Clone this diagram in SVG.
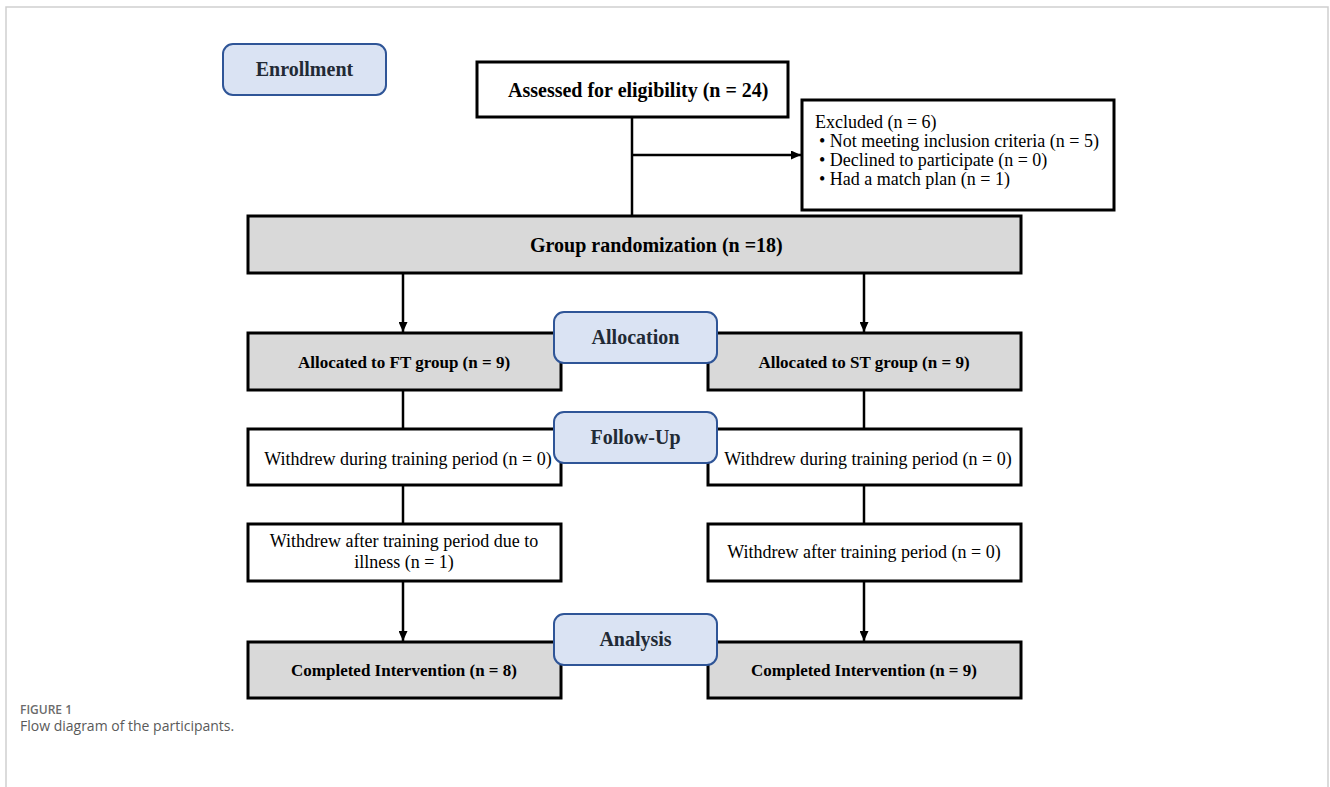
<svg xmlns="http://www.w3.org/2000/svg" width="1330" height="787" viewBox="0 0 1330 787">
<style>
.frame{fill:none;stroke:#cfcfcf;stroke-width:1.5}
.box{fill:#ffffff;stroke:#000;stroke-width:3}
.gbox{fill:#d9d9d9;stroke:#000;stroke-width:3}
.lab{fill:#dae3f3;stroke:#2f5597;stroke-width:2}
.conn{stroke:#000;stroke-width:2.5;fill:none}
.tb{font-family:"Liberation Serif","Times New Roman",serif;font-weight:bold;fill:#000}
.tr{font-family:"Liberation Serif","Times New Roman",serif;font-size:18px;fill:#000}
.tl{font-family:"Liberation Serif","Times New Roman",serif;font-weight:bold;font-size:20px;fill:#222a35;text-anchor:middle}
.cap1{font-family:"Open Sans","Noto Sans",sans-serif;font-weight:600;font-size:12px;fill:#6b6b6b}
.cap2{font-family:"Open Sans","Noto Sans",sans-serif;font-size:14px;fill:#5a5a5a}
</style>
<defs>
<marker id="arr" markerUnits="userSpaceOnUse" markerWidth="10" markerHeight="9" refX="10" refY="4.5" orient="auto">
<path d="M0,0 L10,4.5 L0,9 z" fill="#000"/>
</marker>
</defs>
<rect width="1330" height="787" fill="#fff"/>
<path class="frame" d="M6,787 V7 H1328 V787"/>

<g id="connectors">
<line class="conn" x1="632" y1="117" x2="632" y2="216"/>
<line class="conn" x1="632" y1="155" x2="801" y2="155" marker-end="url(#arr)"/>
<line class="conn" x1="403" y1="273" x2="403" y2="332" marker-end="url(#arr)"/>
<line class="conn" x1="864" y1="273" x2="864" y2="332" marker-end="url(#arr)"/>
<line class="conn" x1="403" y1="390" x2="403" y2="429"/>
<line class="conn" x1="864" y1="390" x2="864" y2="429"/>
<line class="conn" x1="403" y1="485" x2="403" y2="524"/>
<line class="conn" x1="864" y1="485" x2="864" y2="524"/>
<line class="conn" x1="403" y1="581" x2="403" y2="641" marker-end="url(#arr)"/>
<line class="conn" x1="864" y1="581" x2="864" y2="641" marker-end="url(#arr)"/>
</g>

<g id="assessed">
<rect class="box" x="477" y="62" width="311" height="55"/>
<text class="tb" x="508" y="97" font-size="20">Assessed for eligibility (n = 24)</text>
</g>

<g id="excluded">
<rect class="box" x="802" y="100" width="312" height="110"/>
<text class="tr" x="815" y="128">Excluded (n = 6)</text>
<text class="tr" x="819" y="147">• Not meeting inclusion criteria (n = 5)</text>
<text class="tr" x="819" y="166">• Declined to participate (n = 0)</text>
<text class="tr" x="819" y="185">• Had a match plan (n = 1)</text>
</g>

<g id="randomization">
<rect class="gbox" x="248" y="216" width="773" height="57"/>
<text class="tb" x="530" y="252" font-size="20">Group randomization (n =18)</text>
</g>

<g id="alloc-ft">
<rect class="gbox" x="248" y="333" width="313" height="57"/>
<text class="tb" x="404" y="368" font-size="17" text-anchor="middle">Allocated to FT group (n = 9)</text>
</g>

<g id="alloc-st">
<rect class="gbox" x="708" y="333" width="313" height="57"/>
<text class="tb" x="864" y="368" font-size="17" text-anchor="middle">Allocated to ST group (n = 9)</text>
</g>

<g id="withdrew-during-ft">
<rect class="box" x="248" y="429" width="313" height="56"/>
<text class="tr" x="408" y="465" text-anchor="middle">Withdrew during training period (n = 0)</text>
</g>

<g id="withdrew-during-st">
<rect class="box" x="708" y="429" width="313" height="56"/>
<text class="tr" x="868" y="465" text-anchor="middle">Withdrew during training period (n = 0)</text>
</g>

<g id="withdrew-after-ft">
<rect class="box" x="248" y="524" width="313" height="57"/>
<text class="tr" x="404" y="547" text-anchor="middle">Withdrew after training period due to</text>
<text class="tr" x="404" y="568" text-anchor="middle">illness (n = 1)</text>
</g>

<g id="withdrew-after-st">
<rect class="box" x="708" y="524" width="313" height="57"/>
<text class="tr" x="864" y="558" text-anchor="middle">Withdrew after training period (n = 0)</text>
</g>

<g id="completed-ft">
<rect class="gbox" x="248" y="642" width="313" height="56"/>
<text class="tb" x="404" y="676" font-size="17" text-anchor="middle">Completed Intervention (n = 8)</text>
</g>

<g id="completed-st">
<rect class="gbox" x="708" y="642" width="313" height="56"/>
<text class="tb" x="864" y="676" font-size="17" text-anchor="middle">Completed Intervention (n = 9)</text>
</g>

<g id="label-enrollment">
<rect class="lab" x="223" y="44" width="163" height="51" rx="10"/>
<text class="tl" x="304.5" y="76">Enrollment</text>
</g>

<g id="label-allocation">
<rect class="lab" x="554" y="312" width="163" height="51" rx="10"/>
<text class="tl" x="635.5" y="344">Allocation</text>
</g>

<g id="label-followup">
<rect class="lab" x="554" y="412" width="163" height="51" rx="10"/>
<text class="tl" x="635.5" y="444">Follow-Up</text>
</g>

<g id="label-analysis">
<rect class="lab" x="554" y="614" width="163" height="51" rx="10"/>
<text class="tl" x="635.5" y="646">Analysis</text>
</g>

<g id="caption">
<text class="cap1" x="20" y="714">FIGURE 1</text>
<text class="cap2" x="20" y="731">Flow diagram of the participants.</text>
</g>
</svg>
